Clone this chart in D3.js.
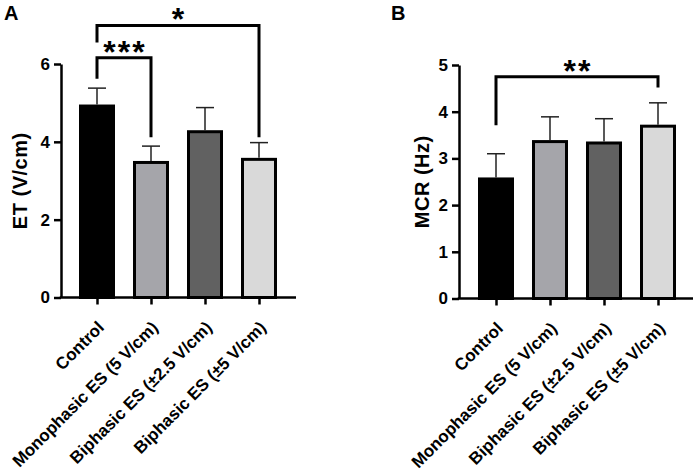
<!DOCTYPE html>
<html>
<head>
<meta charset="utf-8">
<script src="https://d3js.org/d3.v7.min.js"></script>
<style>
  body { margin: 0; background: #fff; }
  text { font-family: Arial, "Liberation Sans", sans-serif; font-weight: bold; fill: #000; }
</style>
</head>
<body>
<div id="chart"></div>
<script>
// categories shared by both panels
var groups = ["Control", "Monophasic ES (5 V/cm)", "Biphasic ES (\u00b12.5 V/cm)", "Biphasic ES (\u00b15 V/cm)"];
var barColors = ["#000000", "#a5a5aa", "#616161", "#d9d9d9"];

// panel A: ET (V/cm)
var etMeans = [4.92, 3.47, 4.26, 3.55];
var etErrors = [0.46, 0.42, 0.62, 0.43];
var etTicks = [0, 2, 4, 6];
// brackets in data units: from, to, bar level, left leg end, right leg end
var etBrackets = [
  { from: 0, to: 1, level: 6.16, leftEnd: 5.62, rightEnd: 4.12, label: "***" },
  { from: 0, to: 3, level: 6.99, leftEnd: 6.55, rightEnd: 4.12, label: "*" }
];

// panel B: MCR (Hz)
var mcrMeans = [2.56, 3.36, 3.33, 3.69];
var mcrErrors = [0.54, 0.53, 0.52, 0.50];
var mcrTicks = [0, 1, 2, 3, 4, 5];
var mcrBrackets = [
  { from: 0, to: 3, level: 4.75, leftEnd: 3.71, rightEnd: 4.52, label: "**" }
];

var width = 699, height = 473;
var svg = d3.select("#chart").append("svg")
  .attr("width", width)
  .attr("height", height);

drawPanel({
  letter: "A", letterX: 4,
  axisX: 61, axisEnd: 296, firstBar: 97, lastBar: 259,
  yTop: 64, yBottom: 297.5, yMax: 6,
  means: etMeans, errors: etErrors, ticks: etTicks, brackets: etBrackets,
  yLabel: "ET (V/cm)", yLabelX: 20
});

drawPanel({
  letter: "B", letterX: 391,
  axisX: 459, axisEnd: 693, firstBar: 496, lastBar: 658,
  yTop: 65, yBottom: 298.5, yMax: 5,
  means: mcrMeans, errors: mcrErrors, ticks: mcrTicks, brackets: mcrBrackets,
  yLabel: "MCR (Hz)", yLabelX: 422
});

function drawPanel(p) {
  var barWidth = 33;
  var starSpacing = 2;
  var g = svg.append("g");

  var xScale = d3.scalePoint()
    .domain(groups)
    .range([p.firstBar, p.lastBar]);
  var yScale = d3.scaleLinear()
    .domain([0, p.yMax])
    .range([p.yBottom, p.yTop]);

  // panel letter
  g.append("text")
    .attr("x", p.letterX)
    .attr("y", 20)
    .style("font-size", "20px")
    .text(p.letter);

  // bars
  g.selectAll("rect.bar")
    .data(p.means)
    .enter().append("rect")
    .attr("class", "bar")
    .attr("x", function (d, i) { return xScale(groups[i]) - barWidth / 2; })
    .attr("y", function (d) { return yScale(d); })
    .attr("width", barWidth)
    .attr("height", function (d) { return yScale(0) - yScale(d); })
    .attr("fill", function (d, i) { return barColors[i]; })
    .attr("stroke", "#000")
    .attr("stroke-width", 3);

  // error bars (upper half only)
  var errs = g.selectAll("g.err")
    .data(p.means)
    .enter().append("g")
    .attr("class", "err");
  errs.append("line")
    .attr("x1", function (d, i) { return xScale(groups[i]); })
    .attr("x2", function (d, i) { return xScale(groups[i]); })
    .attr("y1", function (d) { return yScale(d) - 1.5; })
    .attr("y2", function (d, i) { return yScale(d + p.errors[i]); })
    .attr("stroke", "#222")
    .attr("stroke-width", 1.5);
  errs.append("line")
    .attr("x1", function (d, i) { return xScale(groups[i]) - 9; })
    .attr("x2", function (d, i) { return xScale(groups[i]) + 9; })
    .attr("y1", function (d, i) { return yScale(d + p.errors[i]); })
    .attr("y2", function (d, i) { return yScale(d + p.errors[i]); })
    .attr("stroke", "#222")
    .attr("stroke-width", 1.5);

  // y axis
  var yAxis = g.append("g")
    .attr("transform", "translate(" + p.axisX + ",0)")
    .call(d3.axisLeft(yScale).tickValues(p.ticks).tickFormat(d3.format("d"))
      .tickSize(7).tickSizeOuter(0).tickPadding(4));
  yAxis.selectAll("path, line").attr("stroke", "#000").attr("stroke-width", 2.5);
  yAxis.selectAll("text").style("font-size", "17px").attr("fill", "#000");

  // x axis
  var xAxis = g.append("g")
    .attr("transform", "translate(0," + p.yBottom + ")")
    .call(d3.axisBottom(xScale).tickSize(7).tickSizeOuter(0).tickFormat(""));
  xAxis.select(".domain").attr("d", "M" + (p.axisX - 1.25) + ",0H" + p.axisEnd);
  xAxis.selectAll("path, line").attr("stroke", "#000").attr("stroke-width", 2.5);

  // rotated category labels
  g.selectAll("text.cat")
    .data(groups)
    .enter().append("text")
    .attr("class", "cat")
    .attr("text-anchor", "end")
    .attr("transform", function (d) {
      return "translate(" + (xScale(d) + 8) + "," + (p.yBottom + 31) + ") rotate(-45)";
    })
    .style("font-size", "17px")
    .text(function (d) { return d; });

  // y label
  g.append("text")
    .attr("text-anchor", "middle")
    .attr("transform", "translate(" + p.yLabelX + "," + ((p.yTop + p.yBottom) / 2) + ") rotate(-90)")
    .attr("dy", "0.36em")
    .style("font-size", "20px")
    .style("letter-spacing", "0.5px")
    .text(p.yLabel);

  // significance brackets
  p.brackets.forEach(function (b) {
    var x1 = xScale(groups[b.from]), x2 = xScale(groups[b.to]);
    var yl = yScale(b.level);
    g.append("path")
      .attr("d", "M" + x1 + "," + yScale(b.leftEnd) + "V" + yl + "H" + x2 + "V" + yScale(b.rightEnd))
      .attr("fill", "none")
      .attr("stroke", "#000")
      .attr("stroke-width", 3);
    g.append("text")
      .attr("x", (x1 + x2) / 2 + starSpacing / 2)
      .attr("y", yl + 5)
      .attr("text-anchor", "middle")
      .style("font-size", "32px")
      .style("letter-spacing", starSpacing + "px")
      .text(b.label);
  });
}
</script>
</body>
</html>
